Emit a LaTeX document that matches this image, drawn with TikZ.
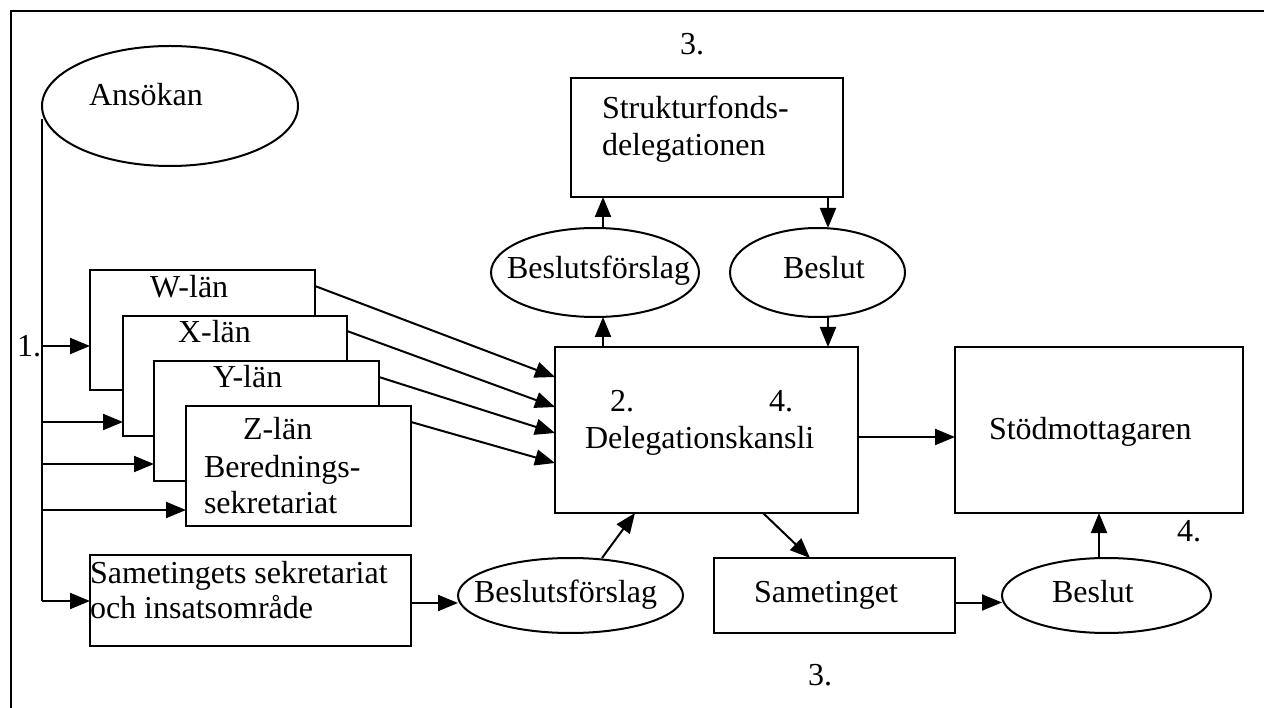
\documentclass[tikz,border=0pt]{standalone}
\usepackage{fontspec}
\setmainfont{Liberation Serif}
\usetikzlibrary{arrows.meta,shapes.geometric,calc}
\begin{document}
\begin{tikzpicture}[x=1pt,y=-1pt,
  line width=2pt,
  box/.style={draw,rectangle,fill=white,inner sep=0pt,outer sep=0pt},
  oval/.style={draw,ellipse,fill=white,inner sep=0pt,outer sep=0pt},
  lbl/.style={inner sep=0pt,outer sep=0pt,anchor=base west,font=\fontsize{32}{36}\selectfont},
  arr/.style={-{Triangle[length=20pt,width=16pt]}},
]
\useasboundingbox (0,0) rectangle (1264,708);
% frame
\coordinate (fa) at (11,708);
\coordinate (fb) at (11,11);
\coordinate (fc) at (1264,11);
\draw (fa) -- (fb) -- (fc);

% Ansökan
\node[oval,minimum width=256pt,minimum height=120pt] (ans) at (170,106) {};
\node[lbl] (tans) at (89,106) {Ansökan};

% stacked county boxes
\node[box,minimum width=225pt,minimum height=120pt] (W) at (202.5,330) {};
\node[box,minimum width=224pt,minimum height=120pt] (X) at (235,376) {};
\node[box,minimum width=225pt,minimum height=120pt] (Y) at (266.5,421) {};
\node[box,minimum width=225pt,minimum height=120pt] (Z) at (298.5,466) {};
\node[lbl] (tW) at (150,298) {W-län};
\node[lbl] (tX) at (178,343) {X-län};
\node[lbl] (tY) at (213,388) {Y-län};
\node[lbl] (tZ) at (243,439) {Z-län};
\node[lbl] (tZ2) at (204,477) {Berednings-};
\node[lbl] (tZ3) at (204,513) {sekretariat};

% Sametingets sekretariat
\node[box,minimum width=321pt,minimum height=91pt] (sam) at (250.5,600.5) {};
\node[lbl] (tsam1) at (90,583) {Sametingets sekretariat};
\node[lbl] (tsam2) at (90,618) {och insatsområde};

\node[lbl] (one) at (17,357) {1.};

% trunk and branches
\coordinate (t0) at ($(ans.west)+(0,13)$);
\coordinate (t1) at (42,346);
\coordinate (t2) at (42,422);
\coordinate (t3) at (42,464);
\coordinate (t4) at (42,510);
\coordinate (t5) at (42,601);
\draw (t0) -- (t5);
\draw[arr] (t1) -- (t1 -| W.west);
\draw[arr] (t2) -- (t2 -| X.west);
\draw[arr] (t3) -- (t3 -| Y.west);
\draw[arr] (t4) -- (t4 -| Z.west);
\draw[arr] (t5) -- (t5 -| sam.west);

% Delegationskansli
\node[box,minimum width=303pt,minimum height=166pt] (dk) at (706.5,430) {};
\node[lbl] (t2n) at (610,412) {2.};
\node[lbl] (t4n) at (769,412) {4.};
\node[lbl] (tdk) at (585,449) {Delegationskansli};

\draw[arr] ($(W.north east)+(0,16)$) -- ($(dk.north west)+(0,30)$);
\draw[arr] ($(X.north east)+(0,15)$) -- ($(dk.north west)+(0,60)$);
\draw[arr] ($(Y.north east)+(0,16)$) -- ($(dk.north west)+(0,86)$);
\draw[arr] ($(Z.north east)+(0,16)$) -- ($(dk.north west)+(0,116)$);

% Strukturfondsdelegationen
\node[box,minimum width=272pt,minimum height=119pt] (sf) at (707,137.5) {};
\node[lbl] (tsf1) at (602,119) {Strukturfonds-};
\node[lbl] (tsf2) at (602,156) {delegationen};
\node[lbl] (three1) at (680,55) {3.};

% upper ovals
\node[oval,minimum width=208pt,minimum height=89pt] (bf1) at (595,272.5) {};
\node[lbl] (tbf1) at (507,279) {Beslutsförslag};
\node[oval,minimum width=175pt,minimum height=89pt] (b1) at (817.5,272.5) {};
\node[lbl] (tb1) at (783,279) {Beslut};

\coordinate (c1) at (603,0);
\coordinate (c2) at (828,0);
\draw[arr] (c1 |- dk.north) -- (c1 |- bf1.south);
\draw[arr] (c1 |- bf1.north) -- (c1 |- sf.south);
\draw[arr] (c2 |- sf.south) -- (c2 |- b1.north);
\draw[arr] (c2 |- b1.south) -- (c2 |- dk.north);

% Stödmottagaren
\node[box,minimum width=288pt,minimum height=166pt] (st) at (1099,430) {};
\node[lbl] (tst) at (989,439) {Stödmottagaren};
\coordinate (d1) at ($(dk.east)+(0,7)$);
\draw[arr] (d1) -- (d1 -| st.west);

% Sametinget
\node[box,minimum width=241pt,minimum height=75pt] (smt) at (834.5,595.5) {};
\node[lbl] (tsmt) at (754,602) {Sametinget};
\draw[arr] ($(dk.south west)+(208,0)$) -- ($(smt.north west)+(96,0)$);

% lower Beslut
\node[oval,minimum width=209pt,minimum height=75pt] (b2) at (1106.5,595.5) {};
\node[lbl] (tb2) at (1052,602) {Beslut};
\coordinate (d2) at ($(smt.east)+(0,7)$);
\draw[arr] (d2) -- (d2 -| b2.west);
\coordinate (c3) at (1099,0);
\draw[arr] (c3 |- b2.north) -- (c3 |- st.south);
\node[lbl] (four2) at (1177,541) {4.};
\node[lbl] (three2) at (808,685) {3.};

% lower Beslutsförslag
\node[oval,minimum width=225pt,minimum height=75pt] (bf2) at (570.5,595.5) {};
\node[lbl] (tbf2) at (474,602) {Beslutsförslag};
\coordinate (d3) at ($(sam.east)+(0,2.5)$);
\draw[arr] (d3) -- (d3 -| bf2.west);
\draw[arr] ($(bf2.north)+(31.5,0)$) -- ($(dk.south west)+(80,0)$);
\end{tikzpicture}
\end{document}
